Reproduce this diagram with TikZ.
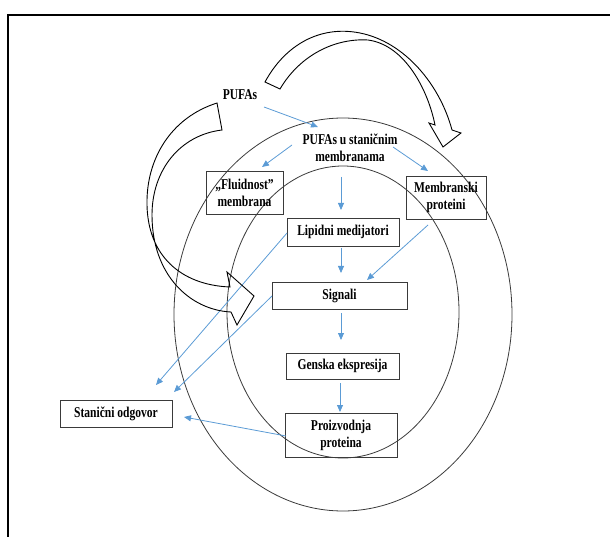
\documentclass[tikz,border=0pt]{standalone}
\usepackage{fontspec}
\setmainfont{Liberation Serif}[FakeStretch=0.77]
\usetikzlibrary{arrows.meta}
\definecolor{arrblue}{HTML}{5B9BD5}
\definecolor{edge}{HTML}{3A3A3A}
\tikzset{
  txt/.style={font=\fontsize{15}{17}\selectfont\bfseries, align=center, inner sep=0pt},
  box/.style={txt, draw=edge, line width=0.9pt},
  conn/.style={draw=arrblue, line width=0.8pt, -{Triangle[length=7pt,width=6pt]}},
  ring/.style={draw=edge, line width=0.8pt},
  bigarrow/.style={draw=black, line width=0.9pt, line join=miter},
}
\begin{document}
\begin{tikzpicture}[x=1pt, y=-1pt]
\useasboundingbox (0,0) rectangle (610,537);
% frame
\draw[line width=2pt] (8,537) -- (8,15) -- (611,15);
% ellipses
\draw[ring] (343,314.5) ellipse [x radius=169, y radius=196.5];
\draw[ring] (343,312) ellipse [x radius=116, y radius=146];
% nodes
\node[txt] (pufas) at (240,95) {PUFAs};
\node[txt] (psm) at (350,148) {PUFAs u staničnim\\membranama};
\node[box, minimum width=77pt, minimum height=43pt] (flu) at (244.5,192.5) {„Fluidnost”\\membrana};
\node[box, minimum width=80pt, minimum height=43pt] (mem) at (446,197.5) {Membranski\\proteini};
\node[box, minimum width=112pt, minimum height=28pt] (lip) at (343,232) {Lipidni medijatori};
\node[box, minimum width=135pt, minimum height=27pt] (sig) at (339.5,295.5) {Signali};
\node[box, minimum width=113pt, minimum height=26pt] (gen) at (342.5,366) {Genska ekspresija};
\node[box, minimum width=112pt, minimum height=44pt] (pro) at (341,435) {Proizvodnja\\proteina};
\node[box, minimum width=112pt, minimum height=27pt] (sta) at (116,413.5) {Stanični odgovor};
% connectors
\draw[conn] ([shift={(24,12)}]pufas.center) -- ([shift={(-32,-21)}]psm.center);
\draw[conn] ([shift={(-58,-3)}]psm.center) -- ([shift={(17.5,-25.5)}]flu.center);
\draw[conn] ([shift={(-9,29)}]psm.center) -- ([shift={(-2,-22)}]lip.center);
\draw[conn] ([shift={(43,-1)}]psm.center) -- ([shift={(-18,-26.5)}]mem.center);
\draw[conn] ([shift={(-2,16)}]lip.center) -- ([shift={(1.5,-22.5)}]sig.center);
\draw[conn] ([shift={(-18,27.5)}]mem.center) -- ([shift={(27.5,-15.5)}]sig.center);
\draw[conn] ([shift={(1.5,17.5)}]sig.center) -- ([shift={(-1.5,-26)}]gen.center);
\draw[conn] ([shift={(-2.5,17)}]gen.center) -- ([shift={(-1,-23)}]pro.center);
\draw[conn] ([shift={(-55,1)}]pro.center) -- ([shift={(68,3.5)}]sta.center);
\draw[conn] ([shift={(-56,1)}]lip.center) -- ([shift={(40,-28.5)}]sta.center);
\draw[conn] ([shift={(-67.5,0.5)}]sig.center) -- ([shift={(58,-21.5)}]sta.center);
% top curved arrow
\draw[bigarrow] (265,82) .. controls (285,45) and (320,25) .. (360,33)
  .. controls (405,42) and (440,85) .. (452,130)
  -- (461,133) -- (443,147) -- (429,123) -- (435,125)
  .. controls (428,90) and (405,45) .. (368,40)
  .. controls (335,38) and (300,55) .. (280,89) -- cycle;
% left curved arrow
\draw[bigarrow] (217,103) .. controls (170,118) and (146,160) .. (147,205)
  .. controls (148,255) and (180,285) .. (230,287)
  -- (227,272) -- (254,296) -- (237,325) -- (231,312)
  .. controls (190,310) and (152,275) .. (152,215)
  .. controls (152,170) and (180,135) .. (222,130) -- cycle;
\end{tikzpicture}
\end{document}
